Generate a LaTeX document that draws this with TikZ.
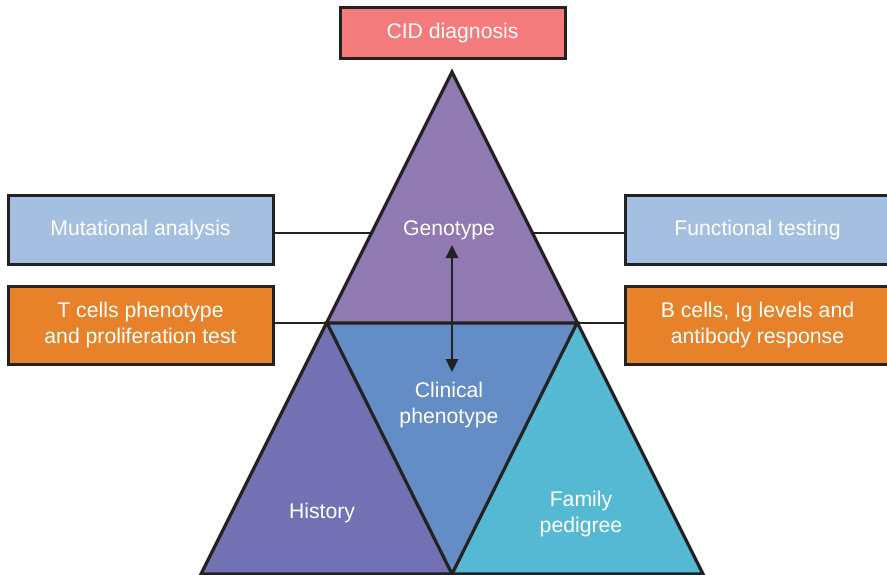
\documentclass[tikz,border=0pt]{standalone}
\usepackage{fontspec}
\setmainfont{Liberation Sans}
\usetikzlibrary{calc,arrows.meta}
\definecolor{cidred}{HTML}{F37B7B}
\definecolor{lblue}{HTML}{A4BFDF}
\definecolor{orng}{HTML}{E8822A}
\definecolor{tpurple}{HTML}{9179B1}
\definecolor{mblue}{HTML}{648DC6}
\definecolor{lviolet}{HTML}{7470B4}
\definecolor{rcyan}{HTML}{55B9D3}
\definecolor{edge}{HTML}{222222}
\tikzset{
  box/.style={draw=edge, line width=3pt, text=white, align=center, inner sep=0pt,
    font=\fontsize{21.2}{26}\selectfont},
  lbl/.style={text=white, align=center, inner sep=0pt, font=\fontsize{21.2}{26}\selectfont},
  conn/.style={draw=edge, line width=2.8pt},
  tri/.style={draw=edge, line width=3.2pt, line join=miter}
}
\begin{document}
\begin{tikzpicture}[x=1pt,y=-1pt]
\useasboundingbox (0,0) rectangle (887,575);
% triangle corners
\coordinate (A) at (452,72);
\coordinate (L) at (327,323);
\coordinate (R) at (577,323);
\coordinate (BL) at (201,574);
\coordinate (BM) at (452,574);
\coordinate (BR) at (703,574);
% fills
\fill[tpurple] (A) -- (L) -- (R) -- cycle;
\fill[mblue] (L) -- (R) -- (BM) -- cycle;
\fill[lviolet] (L) -- (BL) -- (BM) -- cycle;
\fill[rcyan] (R) -- (BM) -- (BR) -- cycle;
% outlines
\draw[tri] (A) -- (BL) -- (BR) -- cycle;
\draw[tri] (L) -- (R) -- (BM) -- cycle;
% boxes
\node[box, fill=cidred, minimum width=225pt, minimum height=51pt] (cid) at (452.5,33.5) {CID diagnosis};
\node[box, fill=lblue, minimum width=265pt, minimum height=68pt] (mut) at (140.5,230) {Mutational analysis};
\node[box, fill=orng, minimum width=265pt, minimum height=78pt] (tc) at (140.5,325) {T cells phenotype\\and proliferation test};
\node[box, fill=lblue, minimum width=265pt, minimum height=68pt] (fun) at (757.5,230) {Functional testing};
\node[box, fill=orng, minimum width=265pt, minimum height=78pt] (bc) at (757.5,325) {B cells, Ig levels and\\antibody response};
% triangle labels
\node[lbl] (geno) at (449,230) {Genotype};
\node[lbl] (clin) at (449,405) {Clinical\\phenotype};
\node[lbl] (hist) at (322,513) {History};
\node[lbl] (fam) at (581,514) {Family\\pedigree};
% connectors
\coordinate (gl) at ($(A)!0.6414!(L)$);
\coordinate (gr) at ($(A)!0.6414!(R)$);
\draw[conn] (gl) -- (gl -| mut.east);
\draw[conn] (gr) -- (gr -| fun.west);
\draw[conn] (L) -- (L -| tc.east);
\draw[conn] (R) -- (R -| bc.west);
% double arrow
\coordinate (atop) at (452,245);
\coordinate (abot) at (452,372);
\draw[draw=edge, line width=2.6pt, {Triangle[length=13pt,width=12pt]}-{Triangle[length=13pt,width=12pt]}] (atop) -- (abot);
\end{tikzpicture}
\end{document}
